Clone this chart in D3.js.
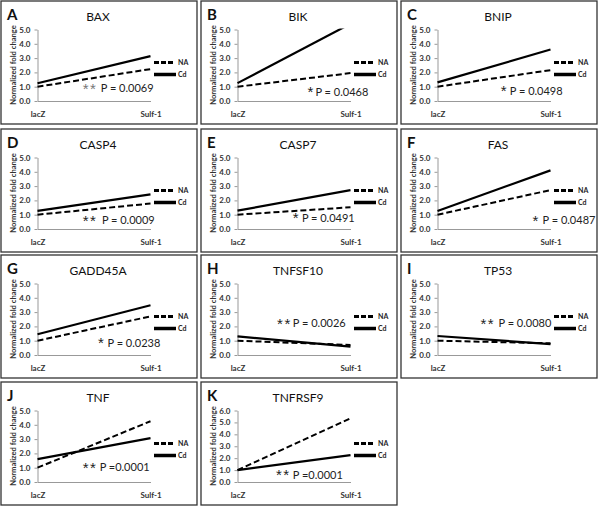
<!DOCTYPE html>
<html><head><meta charset="utf-8">
<script src="https://cdn.jsdelivr.net/npm/d3@7/dist/d3.min.js"></script>
<style>body{margin:0;background:#fff}</style></head>
<body><svg id="c" width="601" height="521"></svg>
<script>
// ---- data ----
const panelLetters = ["A","B","C","D","E","F","G","H","I","J","K"];
const genes = ["BAX","BIK","BNIP","CASP4","CASP7","FAS","GADD45A","TNFSF10","TP53","TNF","TNFRSF9"];
const categories = ["lacZ","Sulf-1"];
const seriesNames = ["NA","Cd"];
const naValues = [[1.0,2.23],[1.0,1.95],[1.0,2.16],[1.0,1.78],[1.0,1.52],[1.0,2.72],[1.0,2.7],[1.0,0.7],[1.0,0.82],[1.0,4.25],[1.0,5.35]];
const cdValues = [[1.24,3.14],[1.25,5.4],[1.3,3.6],[1.27,2.42],[1.28,2.72],[1.26,4.1],[1.45,3.48],[1.3,0.58],[1.33,0.76],[1.6,3.07],[1.0,2.25]];
const yMaxes = [5,5,5,5,5,5,5,5,5,5,6];
const yTicks5 = [0,1,2,3,4,5];
const yTicks6 = [0,1,2,3,4,5,6];
const sigStars = ["**","*","*","**","*","*","*","**","**","**","**"];
const pLabels = ["P = 0.0069","P = 0.0468","P = 0.0498","P = 0.0009","P = 0.0491","P = 0.0487","P = 0.0238","P = 0.0026","P = 0.0080","P =0.0001","P =0.0001"];
// annotation placement: [stars x-fraction, P x-fraction, baseline in axis units]
const sigPlace = [[0.40,0.56,0.61],[0.62,0.69,0.37],[0.56,0.64,0.42],[0.40,0.57,0.32],[0.49,0.57,0.52],[0.84,0.93,0.34],[0.535,0.62,0.59],[0.35,0.49,1.94],[0.38,0.54,1.94],[0.40,0.55,0.74],[0.34,0.49,0.26]];

// ---- layout ----
const svg = d3.select("#c");
const colLefts = [1,201,401], rowTops = [1,129,255,382];
const W = 196, H = 123;
const FONT = "Lato, 'Open Sans', sans-serif";
const X0 = 36.5, X1 = 149.5, YB = 100, YT = 28.5;

genes.forEach((gene, i) => {
  const col = i % 3, row = Math.floor(i / 3);
  const gp = svg.append("g").attr("transform", `translate(${colLefts[col]},${rowTops[row]})`);
  gp.append("rect").attr("width", W).attr("height", H)
    .attr("fill", "#fff").attr("stroke", "#333").attr("stroke-width", 1.3);

  const x = d3.scalePoint().domain(categories).range([X0, X1]);
  const y = d3.scaleLinear().domain([0, yMaxes[i]]).range([YB, YT]);
  const ticks = yMaxes[i] === 6 ? yTicks6 : yTicks5;

  // y axis
  const ya = gp.append("g").attr("transform", `translate(${X0},0)`)
    .call(d3.axisLeft(y).tickValues(ticks).tickFormat(d3.format(".1f")).tickSize(3).tickSizeOuter(0).tickPadding(4));
  ya.select(".domain").attr("stroke", "#999");
  ya.selectAll(".tick line").attr("stroke", "#999");
  ya.selectAll(".tick text").attr("font-family", FONT).attr("font-size", 8).attr("font-weight", "bold").attr("fill", "#333");

  // x axis
  const xa = gp.append("g").attr("transform", `translate(0,${YB})`)
    .call(d3.axisBottom(x).tickSize(0).tickSizeOuter(0).tickPadding(10));
  xa.select(".domain").attr("stroke", "#999");
  xa.selectAll(".tick text").attr("font-family", FONT).attr("font-size", 8).attr("font-weight", "bold").attr("fill", "#333");

  // y label
  gp.append("text").attr("transform", "translate(15,64) rotate(-90)")
    .attr("text-anchor", "middle").attr("font-family", FONT).attr("font-size", 7.6)
    .attr("font-weight", "bold").attr("fill", "#333").text("Normalized fold change");

  // title and letter
  gp.append("text").attr("x", 97).attr("y", 19.5).attr("text-anchor", "middle")
    .attr("font-family", FONT).attr("font-size", 12).attr("fill", "#111").text(gene);
  gp.append("text").attr("x", 6).attr("y", 18.5)
    .attr("font-family", FONT).attr("font-size", 15).attr("font-weight", "bold").attr("fill", "#111").text(panelLetters[i]);

  // clip
  const cid = "clip" + i;
  gp.append("clipPath").attr("id", cid).append("rect")
    .attr("x", X0 - 2).attr("y", YT - 1).attr("width", X1 - X0 + 4).attr("height", YB - YT + 4);

  const line = d3.line().x((d, k) => x(categories[k])).y(d => y(d));
  const plot = gp.append("g").attr("clip-path", `url(#${cid})`);
  plot.append("path").datum(naValues[i]).attr("d", line)
    .attr("fill", "none").attr("stroke", "#000").attr("stroke-width", 2).attr("stroke-dasharray", "6,3");
  plot.append("path").datum(cdValues[i]).attr("d", line)
    .attr("fill", "none").attr("stroke", "#000").attr("stroke-width", 2.2);

  // legend
  const lg = gp.append("g");
  lg.append("line").attr("x1", 153).attr("x2", 174).attr("y1", 61.5).attr("y2", 61.5)
    .attr("stroke", "#000").attr("stroke-width", 3).attr("stroke-dasharray", "5,2");
  lg.append("line").attr("x1", 153).attr("x2", 175).attr("y1", 73.5).attr("y2", 73.5)
    .attr("stroke", "#000").attr("stroke-width", 3.5);
  lg.selectAll("text.lg").data(seriesNames).join("text").attr("class", "lg")
    .attr("x", 177).attr("y", (d, k) => k === 0 ? 64 : 76)
    .attr("font-family", FONT).attr("font-size", 7).attr("font-weight", "bold").attr("fill", "#222").text(d => d);

  // significance
  const sp = sigPlace[i];
  const by = y(sp[2]);
  gp.append("text").attr("x", X0 + sp[0] * (X1 - X0)).attr("y", by + 1.5)
    .attr("font-family", "'Liberation Sans', Arial, sans-serif").attr("font-size", 15).attr("letter-spacing", 1.5)
    .attr("fill", i === 0 ? "#777" : "#222").text(sigStars[i]);
  gp.append("text").attr("x", X0 + sp[1] * (X1 - X0)).attr("y", by)
    .attr("font-family", FONT).attr("font-size", 11).attr("fill", "#222").text(pLabels[i]);
});
</script>
</body></html>
